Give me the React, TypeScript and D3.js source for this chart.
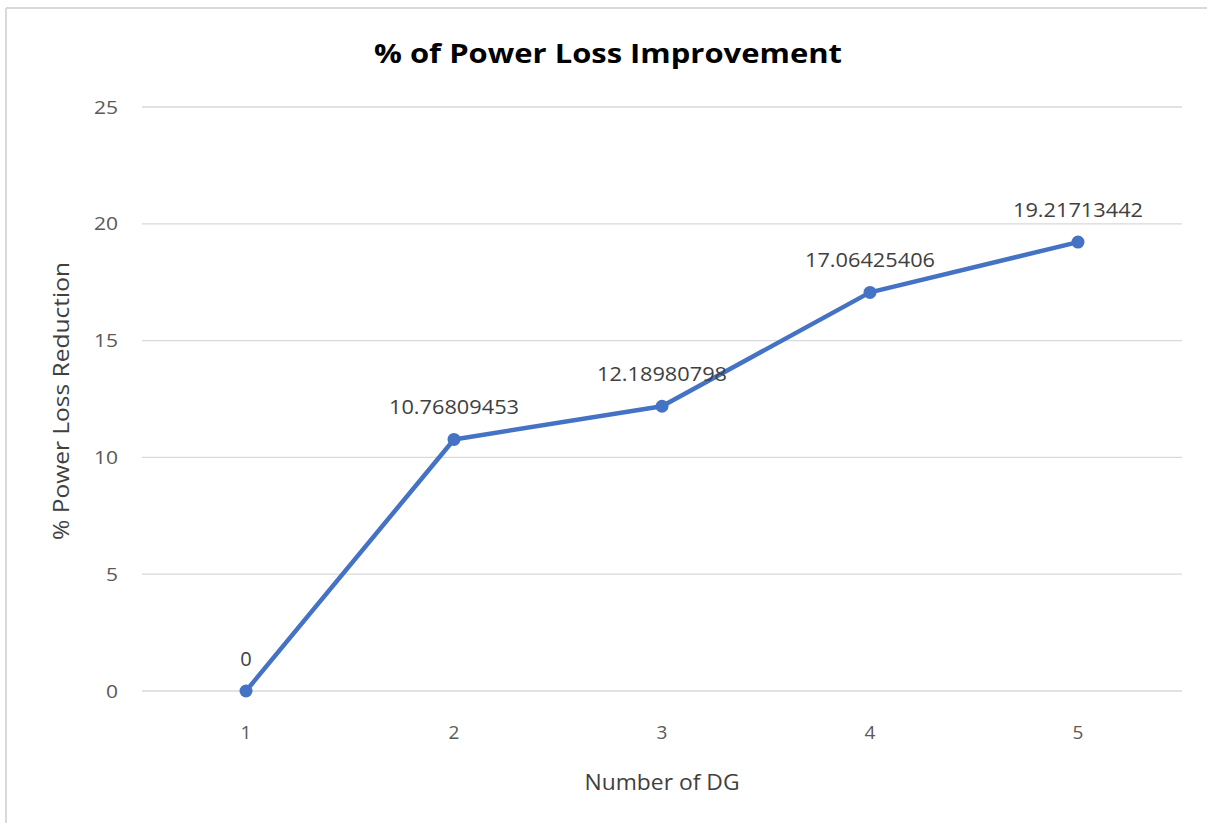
import React from "react";
import * as d3 from "d3";

const categories = ["1", "2", "3", "4", "5"];
const values = [0, 10.76809453, 12.18980798, 17.06425406, 19.21713442];
const valueLabels = ["0", "10.76809453", "12.18980798", "17.06425406", "19.21713442"];
const yTicks = [0, 5, 10, 15, 20, 25];

const W = 1207, H = 823;
const plot = { left: 142, right: 1182, top: 107, bottom: 691 };
const FONT = "'Open Sans', 'Noto Sans', sans-serif";
const BLUE = "#4472C4";

export default function App() {
  const x = d3.scaleBand<string>().domain(categories).range([plot.left, plot.right]);
  const y = d3.scaleLinear().domain([0, 25]).range([plot.bottom, plot.top]);
  const cx = (c: string) => (x(c) as number) + x.bandwidth() / 2;
  const line = d3.line<number>().x((_, i) => cx(categories[i])).y((d) => y(d));

  return (
    <div style={{ position: "absolute", left: 0, top: 0 }}>
      <svg width={W} height={H} style={{ display: "block", background: "#fff" }}>
        <line x1={6} y1={8} x2={W} y2={8} stroke="#d9d9d9" strokeWidth={2} />
        <line x1={6} y1={8} x2={6} y2={H} stroke="#d9d9d9" strokeWidth={2} />

        <text x={608} y={63} textAnchor="middle" fontFamily={FONT} fontWeight="bold" fontSize={27} fill="#000" textLength={468} lengthAdjust="spacingAndGlyphs">
          % of Power Loss Improvement
        </text>

        {yTicks.map((t) => (
          <g key={t}>
            <line x1={plot.left} x2={plot.right} y1={y(t)} y2={y(t)} stroke="#d9d9d9" strokeWidth={1.3} />
            <text x={118} y={y(t)} dy="0.35em" textAnchor="end" fontFamily={FONT} fontSize={19} fill="#595959" textLength={t < 10 ? 12 : 24} lengthAdjust="spacingAndGlyphs">
              {t}
            </text>
          </g>
        ))}

        {categories.map((c) => (
          <text key={c} x={cx(c)} y={732} dy="0.35em" textAnchor="middle" fontFamily={FONT} fontSize={19} fill="#595959">
            {c}
          </text>
        ))}

        <path d={line(values) || ""} fill="none" stroke={BLUE} strokeWidth={4.5} strokeLinejoin="round" />
        {values.map((v, i) => (
          <circle key={i} cx={cx(categories[i])} cy={y(v)} r={6.5} fill={BLUE} />
        ))}
        {values.map((v, i) => (
          <text key={"l" + i} x={cx(categories[i])} y={y(v) - 32} dy="0.35em" textAnchor="middle" fontFamily={FONT} fontSize={20} fill="#404040"
            textLength={valueLabels[i].length > 1 ? 130 : undefined} lengthAdjust="spacingAndGlyphs">
            {valueLabels[i]}
          </text>
        ))}

        <text transform={`translate(61,${(plot.top + plot.bottom) / 2 + 2}) rotate(-90)`} textAnchor="middle" dy="0.35em" fontFamily={FONT} fontSize={22} fill="#404040" textLength={278} lengthAdjust="spacingAndGlyphs">
          % Power Loss Reduction
        </text>
        <text x={(plot.left + plot.right) / 2} y={782} dy="0.35em" textAnchor="middle" fontFamily={FONT} fontSize={22} fill="#404040" textLength={155} lengthAdjust="spacingAndGlyphs">
          Number of DG
        </text>
      </svg>
    </div>
  );
}
